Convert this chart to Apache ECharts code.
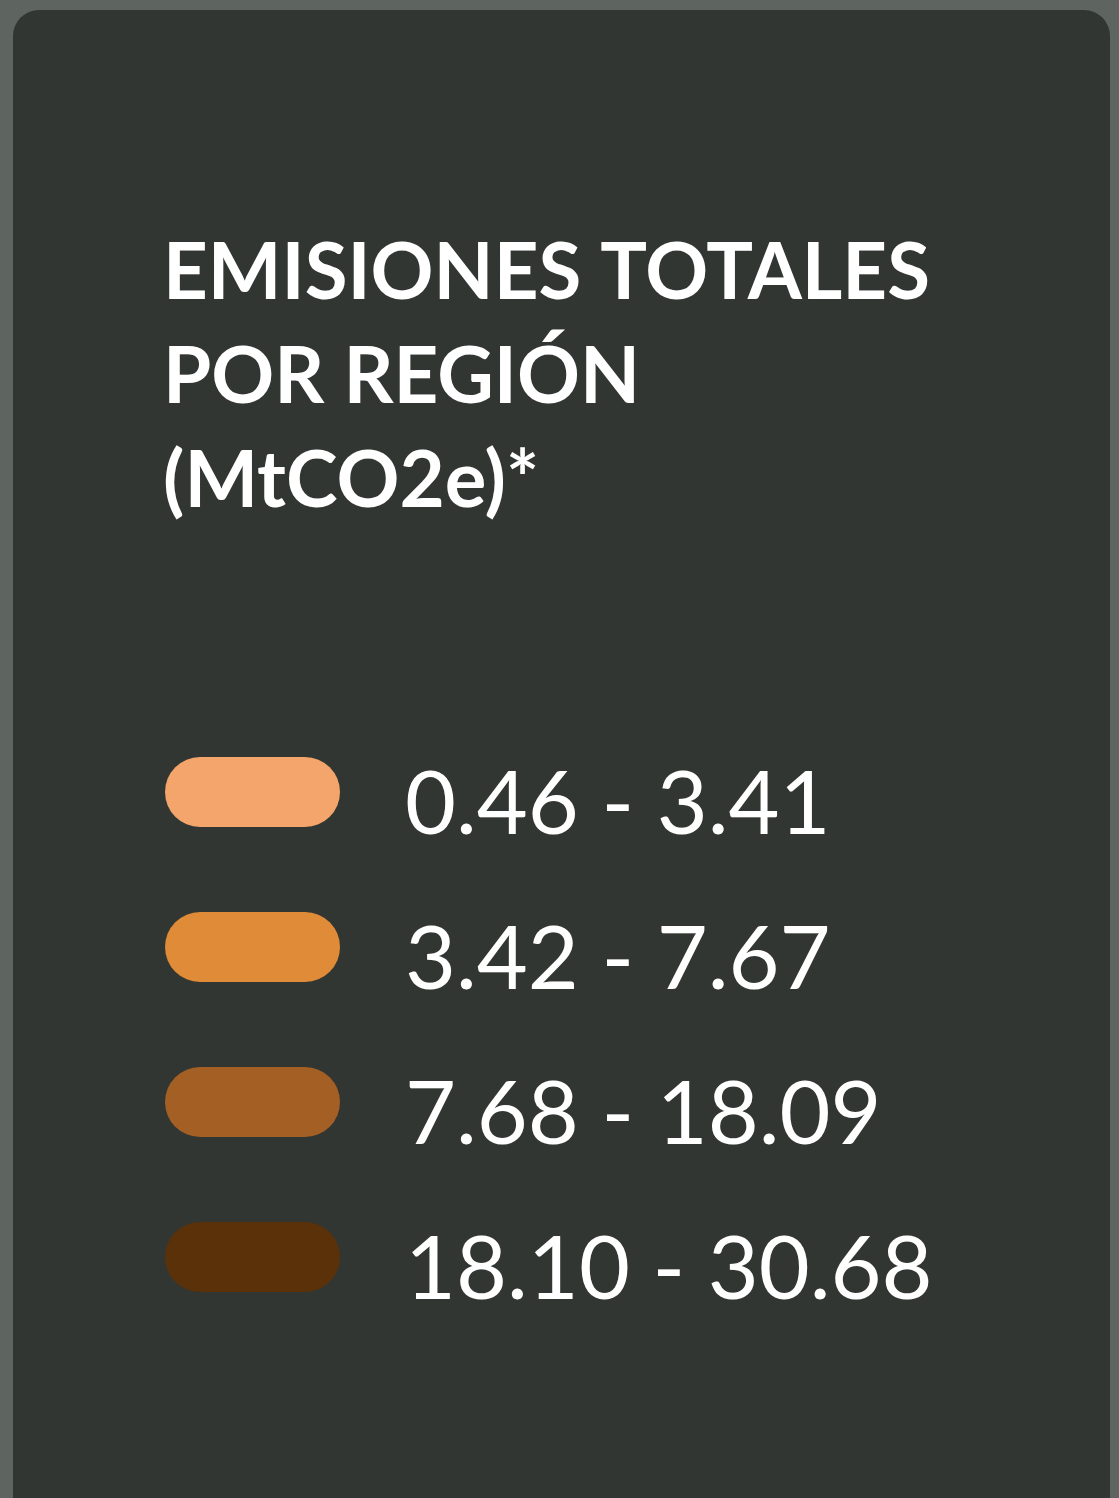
<!DOCTYPE html>
<html>
<head>
<meta charset="utf-8">
<script src="https://cdn.jsdelivr.net/npm/echarts@6/dist/echarts.min.js"></script>
<style>
  html, body { margin: 0; padding: 0; background: #5e6560; }
  #chart { width: 1119px; height: 1498px; }
</style>
</head>
<body>
<div id="chart"></div>
<script>
// rangos de la leyenda (MtCO2e)
var rangeMin = [0.46, 3.42, 7.68, 18.10];
var rangeMax = [3.41, 7.67, 18.09, 30.68];
var rangeLabels = ['0.46 - 3.41', '3.42 - 7.67', '7.68 - 18.09', '18.10 - 30.68'];
var rangeColors = ['#f4a56b', '#e08b37', '#a35f24', '#5a3109'];

var titleLines = ['EMISIONES TOTALES', 'POR REGIÓN', '(MtCO2e)*'];

var pieces = [];
for (var i = 0; i < rangeMin.length; i++) {
    // la etiqueta va en rich text para bajarla un poco respecto a la píldora
    pieces.push({ min: rangeMin[i], max: rangeMax[i], label: '{v|' + rangeLabels[i] + '}', color: rangeColors[i] });
}

var myChart = echarts.init(document.getElementById('chart'));

var option = {
    backgroundColor: '#5e6560',
    graphic: [{
        type: 'rect',
        shape: { x: 13, y: 10, width: 1097, height: 1540, r: 26 },
        style: { fill: '#323632' },
        z: -10
    }],
    title: {
        text: titleLines.join('\n'),
        left: 158,
        top: 217,
        textStyle: {
            color: '#ffffff',
            fontFamily: 'Lato',
            fontWeight: 'bold',
            fontSize: 78,
            lineHeight: 104
        }
    },
    visualMap: {
        type: 'piecewise',
        orient: 'vertical',
        inverse: true,
        left: 160,
        top: 752,
        padding: 5,
        itemWidth: 175,
        itemHeight: 70,
        itemGap: 62,
        textGap: 65,
        itemSymbol: 'path://M35,0 L140,0 A35,35 0 0 1 140,70 L35,70 A35,35 0 0 1 35,0 Z',
        pieces: pieces,
        selectedMode: false,
        textStyle: {
            color: '#ffffff',
            fontFamily: 'Lato',
            fontSize: 88,
            rich: {
                v: {
                    color: '#ffffff',
                    fontFamily: 'Lato',
                    fontSize: 88,
                    padding: [28, 0, 0, 0]
                }
            }
        }
    },
    series: []
};

myChart.setOption(option);
</script>
</body>
</html>
